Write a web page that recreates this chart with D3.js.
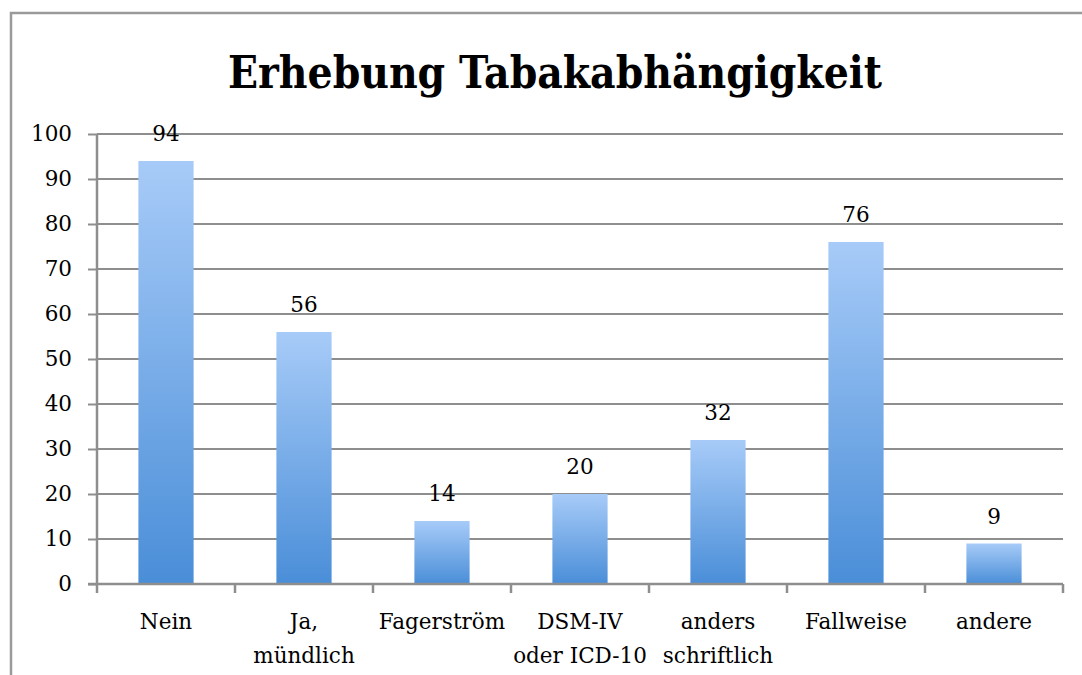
<!DOCTYPE html>
<html>
<head>
<meta charset="utf-8">
<script src="https://cdn.jsdelivr.net/npm/d3@7"></script>
<style>
  body { margin: 0; background: #fff; }
  svg { display: block; }
</style>
</head>
<body>
<svg id="chart" width="1082" height="675"></svg>
<script>
// data
const categories = ["Nein", "Ja,\nmündlich", "Fagerström", "DSM-IV\noder ICD-10", "anders\nschriftlich", "Fallweise", "andere"]
const values = [94, 56, 14, 20, 32, 76, 9]
const yTicks = [0, 10, 20, 30, 40, 50, 60, 70, 80, 90, 100]
const title = "Erhebung Tabakabhängigkeit"

const margin = {top: 134, right: 19, bottom: 91, left: 97}
const width = 1082 - margin.left - margin.right,
      height = 675 - margin.top - margin.bottom
const labelFont = "'DejaVu Serif', serif"
const labelSize = "21.5px"
const gridColor = "#8e8e8e"

let svg = d3.select("#chart")

// outer frame (only top/left visible in the crop)
svg.append("path")
  .attr("d", "M11,700 L11,13 L1100,13")
  .attr("fill", "none")
  .attr("stroke", "#9a9a9a")
  .attr("stroke-width", 2.5)

let defs = svg.append("defs")
let grad = defs.append("linearGradient")
  .attr("id", "barGrad")
  .attr("x1", 0).attr("y1", 0).attr("x2", 0).attr("y2", 1)
grad.append("stop").attr("offset", "0%").attr("stop-color", "#a7cbf8")
grad.append("stop").attr("offset", "100%").attr("stop-color", "#4a8ed8")

let chart = svg.append("g")
  .attr("transform", "translate(" + margin.left + "," + margin.top + ")")

let x = d3.scaleBand().domain(categories).range([0, width]).paddingInner(0.6).paddingOuter(0.3)
let y = d3.scaleLinear().domain([0, 100]).range([height, 0])

// gridlines
chart.append("g")
  .selectAll("line")
  .data(yTicks.filter(d => d > 0))
  .enter().append("line")
  .attr("x1", 0).attr("x2", width)
  .attr("y1", d => y(d)).attr("y2", d => y(d))
  .attr("stroke", gridColor)
  .attr("stroke-width", 2)

// bars
chart.append("g")
  .selectAll("rect")
  .data(values)
  .enter().append("rect")
  .attr("x", (d, i) => x(categories[i]))
  .attr("y", d => y(d))
  .attr("width", x.bandwidth())
  .attr("height", d => height - y(d))
  .attr("fill", "url(#barGrad)")

// value labels
chart.append("g")
  .selectAll("text")
  .data(values)
  .enter().append("text")
  .attr("x", (d, i) => x(categories[i]) + x.bandwidth() / 2)
  .attr("y", d => y(d) - 20)
  .attr("text-anchor", "middle")
  .style("font-family", labelFont)
  .style("font-size", labelSize)
  .style("fill", "#000")
  .text(d => d)

// y axis
let yAxis = chart.append("g")
  .call(d3.axisLeft(y).tickValues(yTicks).tickSize(9).tickPadding(16))
yAxis.select(".domain").attr("stroke", gridColor).attr("stroke-width", 2.5)
  .attr("d", "M0," + height + "V0")
yAxis.selectAll(".tick line").attr("stroke", gridColor).attr("stroke-width", 2)
yAxis.selectAll(".tick text")
  .style("font-family", labelFont).style("font-size", labelSize).style("fill", "#000")

// x axis line and boundary ticks
let bounds = d3.range(categories.length + 1).map(i => i * width / categories.length)
chart.append("line")
  .attr("x1", -9).attr("x2", width)
  .attr("y1", height).attr("y2", height)
  .attr("stroke", gridColor).attr("stroke-width", 2.5)
chart.append("g")
  .selectAll("line")
  .data(bounds)
  .enter().append("line")
  .attr("x1", d => d).attr("x2", d => d)
  .attr("y1", height).attr("y2", height + 9)
  .attr("stroke", gridColor).attr("stroke-width", 2.5)

// category labels (can wrap onto two lines)
let catText = chart.append("g")
  .selectAll("text")
  .data(categories)
  .enter().append("text")
  .attr("x", d => x(d) + x.bandwidth() / 2)
  .attr("y", height + 45)
  .attr("text-anchor", "middle")
  .style("font-family", labelFont)
  .style("font-size", labelSize)
  .style("fill", "#000")
catText.each(function(d) {
  let lines = d.split("\n")
  let t = d3.select(this)
  lines.forEach((ln, i) => {
    t.append("tspan")
      .attr("x", x(d) + x.bandwidth() / 2)
      .attr("dy", i == 0 ? 0 : 34)
      .text(ln)
  })
})

// title
svg.append("text")
  .attr("x", 555)
  .attr("y", 88)
  .attr("text-anchor", "middle")
  .attr("textLength", 654)
  .attr("lengthAdjust", "spacingAndGlyphs")
  .style("font-family", "'DejaVu Serif Condensed', 'DejaVu Serif', serif")
  .style("font-weight", "bold")
  .style("font-size", "44px")
  .style("fill", "#000")
  .text(title)
</script>
</body>
</html>
